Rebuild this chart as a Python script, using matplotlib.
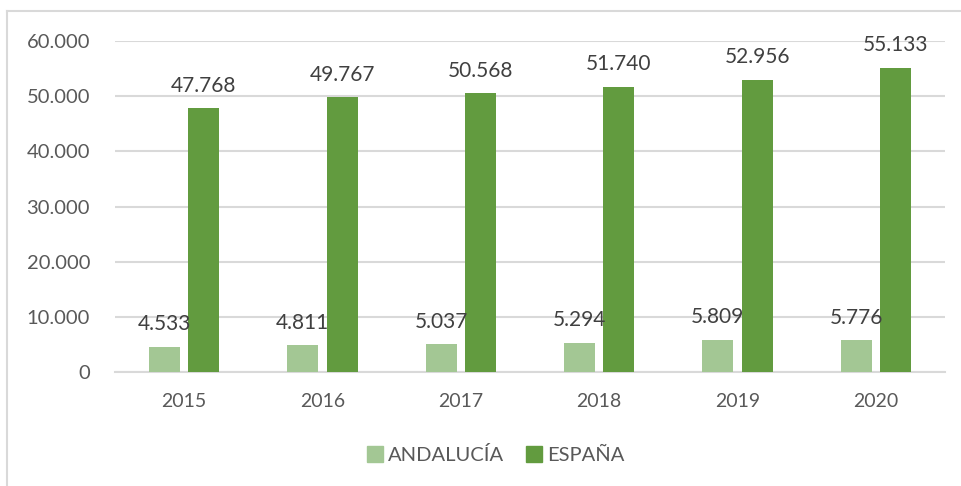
import numpy as np
import matplotlib.pyplot as plt
from matplotlib.lines import Line2D

years = ["2015", "2016", "2017", "2018", "2019", "2020"]
andalucia = [4533, 4811, 5037, 5294, 5809, 5776]
espana = [47768, 49767, 50568, 51740, 52956, 55133]
y_ticks = [0, 10000, 20000, 30000, 40000, 50000, 60000]

light_green = "#A3C794"
dark_green = "#629B3F"
grid_gray = "#D9D9D9"
text_gray = "#595959"
label_gray = "#404040"

plt.rcParams["font.family"] = ["Lato", "DejaVu Sans"]

def fmt(v):
    return f"{v:,}".replace(",", ".")

fig = plt.figure(figsize=(9.61, 4.86), dpi=100)
ax = fig.add_axes([0.1197, 0.2346, 0.8637, 0.681])

x = np.arange(len(years))
w = 0.224
off = 0.142
b1 = ax.bar(x - off, andalucia, w, color=light_green, zorder=3)
b2 = ax.bar(x + off, espana, w, color=dark_green, zorder=3)

for bars, vals in [(b1, andalucia), (b2, espana)]:
    for b, v in zip(bars, vals):
        ax.annotate(fmt(v), (b.get_x() + b.get_width() / 2, v),
                    xytext=(0, 9), textcoords="offset points",
                    ha="center", va="bottom", fontsize=15, color=label_gray, zorder=4)

ax.set_xlim(-0.5, len(years) - 0.5)
ax.set_ylim(0, 60000)
ax.set_yticks(y_ticks)
ax.set_yticklabels([fmt(t) for t in y_ticks])
ax.set_xticks(x)
ax.set_xticklabels(years)
ax.tick_params(axis="y", length=0, pad=18, labelsize=14.5, labelcolor=text_gray)
ax.tick_params(axis="x", length=0, pad=15, labelsize=14, labelcolor=text_gray)
ax.grid(axis="y", color=grid_gray, linewidth=1.5, zorder=0)
for s in ["top", "right", "left"]:
    ax.spines[s].set_visible(False)
ax.spines["bottom"].set_color(grid_gray)
ax.spines["bottom"].set_linewidth(1.5)

handles = [Line2D([], [], marker="s", linestyle="", markersize=11, color=light_green),
           Line2D([], [], marker="s", linestyle="", markersize=11, color=dark_green)]
leg = fig.legend(handles, ["ANDALUCÍA", "ESPAÑA"], loc="center", bbox_to_anchor=(0.515, 0.064),
                 ncol=2, frameon=False, fontsize=14.5, handletextpad=0.15, columnspacing=1.0,
                 handlelength=1.0)
for t in leg.get_texts():
    t.set_color(text_gray)

# chart border (partially visible, as in the source screenshot)
fig.add_artist(Line2D([0.0078, 0.0078], [0.0, 0.977], color=grid_gray, linewidth=1.5,
                      transform=fig.transFigure))
fig.add_artist(Line2D([0.0078, 1.0], [0.977, 0.977], color=grid_gray, linewidth=1.5,
                      transform=fig.transFigure))

fig.savefig("out.png", dpi=100)
